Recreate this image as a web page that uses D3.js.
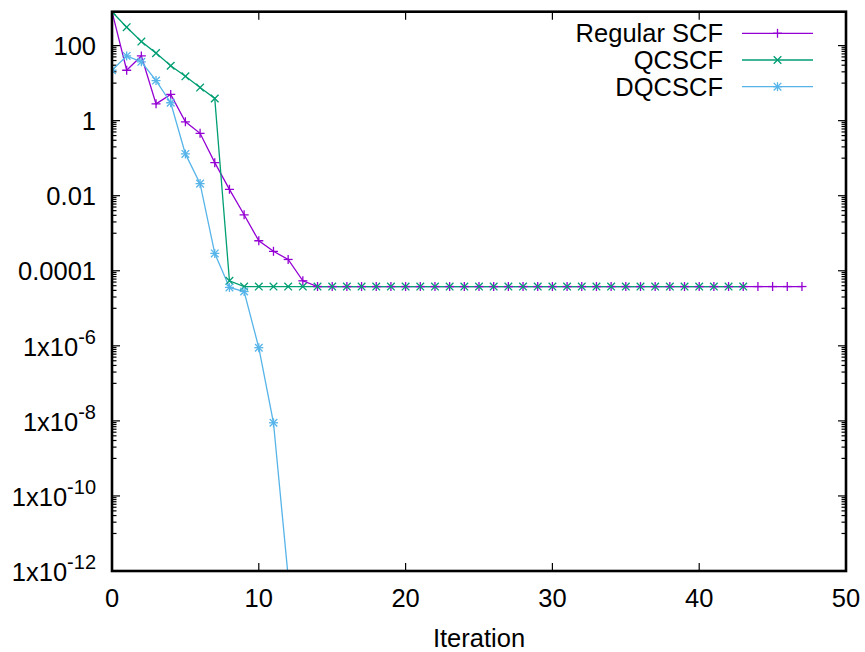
<!DOCTYPE html>
<html>
<head>
<meta charset="utf-8">
<script src="https://cdn.jsdelivr.net/npm/d3@7"></script>
<style>
body{margin:0;background:#fff;}
text{font-family:"Liberation Sans",Arial,Helvetica,sans-serif;fill:#000;}
</style>
</head>
<body>
<svg id="chart" width="865" height="652"></svg>
<script>
// ---- data ----
const seriesNames = ["Regular SCF", "QCSCF", "DQCSCF"];
const seriesColors = ["#9400d3", "#009e73", "#56b4e9"];
const seriesMarkers = ["plus", "cross", "star"];

const regularSCF = [800, 22, 53, 2.8, 5.0, 0.93, 0.46, 0.076, 0.0148, 0.0031, 6.3e-4, 3.3e-4, 2.0e-4, 5.4e-5,
  3.8e-5, 3.8e-5, 3.8e-5, 3.8e-5, 3.8e-5, 3.8e-5, 3.8e-5, 3.8e-5, 3.8e-5, 3.8e-5, 3.8e-5, 3.8e-5, 3.8e-5, 3.8e-5,
  3.8e-5, 3.8e-5, 3.8e-5, 3.8e-5, 3.8e-5, 3.8e-5, 3.8e-5, 3.8e-5, 3.8e-5, 3.8e-5, 3.8e-5, 3.8e-5, 3.8e-5, 3.8e-5,
  3.8e-5, 3.8e-5, 3.8e-5, 3.8e-5, 3.8e-5, 3.8e-5];
const qcSCF = [800, 309, 128, 63, 29, 15.2, 7.6, 3.9, 5.4e-5,
  3.8e-5, 3.8e-5, 3.8e-5, 3.8e-5, 3.8e-5, 3.8e-5, 3.8e-5, 3.8e-5, 3.8e-5, 3.8e-5, 3.8e-5, 3.8e-5, 3.8e-5, 3.8e-5,
  3.8e-5, 3.8e-5, 3.8e-5, 3.8e-5, 3.8e-5, 3.8e-5, 3.8e-5, 3.8e-5, 3.8e-5, 3.8e-5, 3.8e-5, 3.8e-5, 3.8e-5, 3.8e-5,
  3.8e-5, 3.8e-5, 3.8e-5, 3.8e-5, 3.8e-5, 3.8e-5, 3.8e-5];
const dqcSCF = [22, 53, 37, 11.7, 3.0, 0.13, 0.021, 2.9e-4, 3.6e-5, 2.8e-5, 8.9e-7, 8.9e-9, 7e-13];

const xTicks = [0, 10, 20, 30, 40, 50];
const yMajorExps = [2, 0, -2, -4, -6, -8, -10, -12];
const yTickLabels = ["100", "1", "0.01", "0.0001", "1x10|-6", "1x10|-8", "1x10|-10", "1x10|-12"];
const xLabel = "Iteration";

// ---- layout ----
const svg = d3.select("#chart");
const L = 112, R = 846, T = 11.7, B = 571;
const FS = 25.5;
const x = d3.scaleLinear().domain([0, 50]).range([L, R]);
const y = d3.scaleLog().domain([1e-12, 800]).range([B, T]);

svg.append("defs").append("clipPath").attr("id", "clip")
  .append("rect").attr("x", L).attr("y", T).attr("width", R - L).attr("height", B - T);

// ticks
const tickG = svg.append("g").attr("stroke", "#000").attr("stroke-width", 1.2);
const majorLen = 8, minorLen = 4.5;
yMajorExps.forEach(e => {
  const v = Math.pow(10, e);
  const py = y(v);
  tickG.append("line").attr("x1", L).attr("x2", L + majorLen).attr("y1", py).attr("y2", py);
  tickG.append("line").attr("x1", R).attr("x2", R - majorLen).attr("y1", py).attr("y2", py);
  for (let k = 1; k <= 9; k++) {
    const mv = k * Math.pow(10, e + 1);
    if (mv > 800 || mv < 1e-12) continue;
    const my = y(mv);
    tickG.append("line").attr("x1", L).attr("x2", L + minorLen).attr("y1", my).attr("y2", my);
    tickG.append("line").attr("x1", R).attr("x2", R - minorLen).attr("y1", my).attr("y2", my);
  }
});
xTicks.forEach(t => {
  const px = x(t);
  tickG.append("line").attr("x1", px).attr("x2", px).attr("y1", B).attr("y2", B - majorLen);
  tickG.append("line").attr("x1", px).attr("x2", px).attr("y1", T).attr("y2", T + majorLen);
});

// y tick labels
yMajorExps.forEach((e, i) => {
  const py = y(Math.pow(10, e));
  const lab = yTickLabels[i];
  const t = svg.append("text").attr("text-anchor", "end").attr("x", 96).attr("font-size", FS);
  if (lab.includes("|")) {
    const [base, exp] = lab.split("|");
    t.attr("y", py + 10);
    t.append("tspan").text(base);
    t.append("tspan").attr("font-size", 20).attr("dy", -12).text(exp);
  } else {
    t.attr("y", py + 9).text(lab);
  }
});

// x tick labels
xTicks.forEach(t => {
  svg.append("text").attr("text-anchor", "middle").attr("x", x(t)).attr("y", 606.5)
    .attr("font-size", FS).text(t);
});
svg.append("text").attr("text-anchor", "middle").attr("x", 479).attr("y", 646.5)
  .attr("font-size", FS).text(xLabel);

// markers
function drawMarker(g, type, cx, cy, color) {
  const s = 4.5, d = 3.8;
  const m = g.append("g").attr("stroke", color).attr("stroke-width", 1.3).attr("fill", "none");
  if (type === "plus" || type === "star") {
    m.append("line").attr("x1", cx - s).attr("x2", cx + s).attr("y1", cy).attr("y2", cy);
    m.append("line").attr("x1", cx).attr("x2", cx).attr("y1", cy - s).attr("y2", cy + s);
  }
  if (type === "cross" || type === "star") {
    m.append("line").attr("x1", cx - d).attr("x2", cx + d).attr("y1", cy - d).attr("y2", cy + d);
    m.append("line").attr("x1", cx - d).attr("x2", cx + d).attr("y1", cy + d).attr("y2", cy - d);
  }
}

const allSeries = [regularSCF, qcSCF, dqcSCF];
const plotG = svg.append("g").attr("clip-path", "url(#clip)");
const line = d3.line().x((d, i) => x(i)).y(d => y(d));
allSeries.forEach((data, si) => {
  plotG.append("path").datum(data).attr("d", line).attr("fill", "none")
    .attr("stroke", seriesColors[si]).attr("stroke-width", 1.3);
});
allSeries.forEach((data, si) => {
  data.forEach((v, i) => {
    if (v < 1e-12) return;
    drawMarker(plotG, seriesMarkers[si], x(i), y(v), seriesColors[si]);
  });
});

// legend
seriesNames.forEach((name, i) => {
  const ly = 33.3 + i * 26.7;
  svg.append("text").attr("text-anchor", "end").attr("x", 723).attr("y", ly + 9)
    .attr("font-size", FS).text(name);
  svg.append("line").attr("x1", 742).attr("x2", 813).attr("y1", ly).attr("y2", ly)
    .attr("stroke", seriesColors[i]).attr("stroke-width", 1.3);
  drawMarker(svg, seriesMarkers[i], 777.5, ly, seriesColors[i]);
});

// frame
svg.append("rect").attr("x", L).attr("y", T).attr("width", R - L).attr("height", B - T)
  .attr("fill", "none").attr("stroke", "#000").attr("stroke-width", 2.6);
</script>
</body>
</html>
